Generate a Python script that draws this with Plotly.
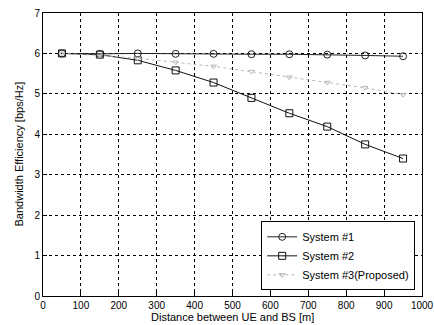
import plotly.graph_objects as go

distance = [50, 150, 250, 350, 450, 550, 650, 750, 850, 950]
system1 = [6.0, 5.99, 6.0, 5.99, 5.99, 5.98, 5.98, 5.97, 5.95, 5.93]
system2 = [6.0, 5.97, 5.83, 5.58, 5.28, 4.90, 4.52, 4.19, 3.75, 3.40]
system3 = [6.0, 5.95, 5.88, 5.78, 5.68, 5.55, 5.41, 5.28, 5.15, 4.98]
names = ["System #1", "System #2", "System #3(Proposed)"]
x_ticks = [0, 100, 200, 300, 400, 500, 600, 700, 800, 900, 1000]
y_ticks = [0, 1, 2, 3, 4, 5, 6, 7]
x_title = "Distance between UE and BS [m]"
y_title = "Bandwidth Efficiency [bps/Hz]"

fig = go.Figure()
fig.add_trace(go.Scatter(x=distance, y=system1, name=names[0], mode="lines+markers",
                         line=dict(color="#222222", width=1),
                         marker=dict(symbol="circle-open", size=7, color="#222222", line=dict(width=1))))
fig.add_trace(go.Scatter(x=distance, y=system2, name=names[1], mode="lines+markers",
                         line=dict(color="#111111", width=1),
                         marker=dict(symbol="square-open", size=7, color="#111111", line=dict(width=1))))
fig.add_trace(go.Scatter(x=distance, y=system3, name=names[2], mode="lines+markers",
                         line=dict(color="#b8b8b8", width=1, dash="dot"),
                         marker=dict(symbol="triangle-down-open", size=5, color="#b8b8b8", line=dict(width=1))))

axis_common = dict(showline=True, mirror=True, linecolor="black", linewidth=1,
                   showgrid=True, gridcolor="black", griddash="dot", gridwidth=1,
                   ticks="inside", ticklen=4, tickcolor="black", zeroline=False,
                   automargin=False,
                   tickfont=dict(family="Liberation Sans", size=10, color="black"))

fig.update_layout(
    width=434, height=325,
    margin=dict(l=43, r=12, t=13, b=29),
    plot_bgcolor="white", paper_bgcolor="white",
    font=dict(family="Liberation Sans", size=11, color="black"),
    showlegend=True,
    legend=dict(x=0.982, y=0.02, xanchor="right", yanchor="bottom",
                bgcolor="white", bordercolor="black", borderwidth=1,
                font=dict(size=11), tracegroupgap=0, itemwidth=30),
    annotations=[
        dict(text=x_title, xref="paper", yref="paper", x=0.5, y=0, yshift=-21,
             xanchor="center", yanchor="middle", showarrow=False, font=dict(size=11)),
        dict(text=y_title, xref="paper", yref="paper", x=0, y=0.5, xshift=-25,
             xanchor="center", yanchor="middle", textangle=-90, showarrow=False, font=dict(size=11)),
    ],
)
fig.update_xaxes(range=[0, 1000], tickvals=x_ticks, **axis_common)
fig.update_yaxes(range=[0, 7], tickvals=y_ticks, **axis_common)

fig.write_html("out.html")
